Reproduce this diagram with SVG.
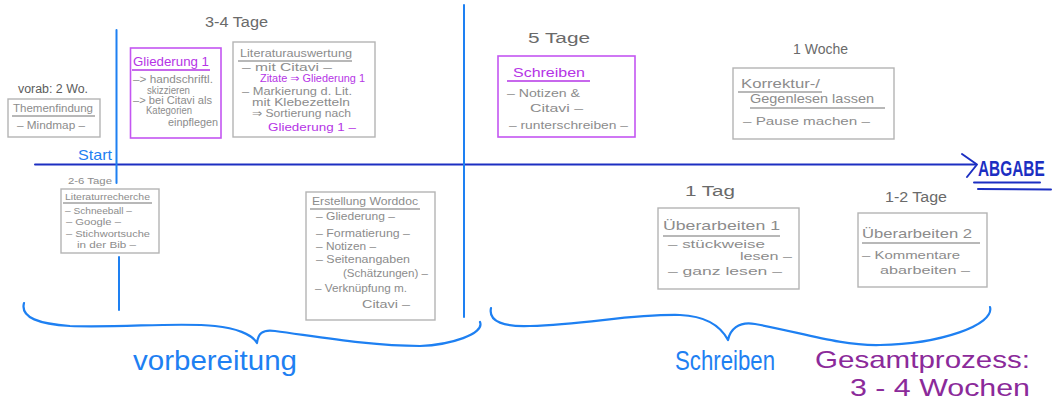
<svg xmlns="http://www.w3.org/2000/svg" width="1053" height="405" viewBox="0 0 1053 405">
  <style>
    text { font-family: "Liberation Sans", "DejaVu Sans", sans-serif; }
    .box { fill: #ffffff; stroke: #b4b4b4; stroke-width: 1.4; }
    .pbox { fill: #ffffff; stroke: #c456f2; stroke-width: 1.6; }
    .t { fill: #8c8c8c; font-size: 10.5px; }
    .ts { fill: #8c8c8c; font-size: 9.5px; }
    .tl { fill: #8c8c8c; font-size: 13px; }
    .p { fill: #b534e6; font-size: 10.5px; }
    .pl { fill: #b534e6; font-size: 13px; }
    .ul { stroke: #a0a0a0; stroke-width: 1.3; }
    .pul { stroke: #b534e6; stroke-width: 1.3; }
    .dur { fill: #6a6a6a; font-size: 14px; }
    .axis { stroke: #1c2fc2; stroke-width: 2; fill: none; stroke-linecap: round; stroke-linejoin: round; }
    .sep { stroke: #1e80f2; stroke-width: 2; fill: none; stroke-linecap: round; }
    .brace { stroke: #1e80f2; stroke-width: 2.2; fill: none; stroke-linecap: round; stroke-linejoin: round; }
    .phase { fill: #1e80f2; font-size: 28px; }
  </style>

  <!-- timeline, phase separators and braces -->
  <g id="connectors">
    <path class="axis" d="M35 164.5 L975 164.5"/>
    <path class="axis" d="M962 154 L977 164.5 L967 177"/>
    <path class="sep" d="M116.5 30 L116.5 183"/>
    <path class="sep" d="M119 257 L119 310"/>
    <path class="sep" d="M464 5 L464 317"/>
    <path class="brace" d="M24 303 C20 318 40 324 70 326 C120 328 180 322 215 326 C235 328 252 334 257 343 C258 334 262 329 275 331 C320 337 370 346 420 346 C450 345 485 334 480 322"/>
    <path class="brace" d="M491 308 C488 322 505 327 530 326 C590 324 630 314 680 315 C705 316 720 325 728 340 C730 330 738 321 755 324 C800 332 840 346 880 345 C940 344 995 325 990 307"/>
  </g>

  <g id="start">
    <text x="78" y="160" fill="#1e80f2" font-size="15" textLength="34" lengthAdjust="spacingAndGlyphs">Start</text>
  </g>

  <g id="abgabe">
    <!-- condensed horizontally so the word sits between arrow tip and right edge -->
    <text transform="translate(978 176) scale(0.7 1)" x="0" y="0" fill="#1c2fc2" font-size="22" font-weight="bold">ABGABE</text>
    <path class="axis" d="M974 182.5 L1040 182.5"/>
    <path class="axis" d="M978 189 L1051 189.5"/>
  </g>

  <!-- preparation phase -->
  <g id="themenfindung">
    <text x="18" y="93" fill="#5c5c5c" font-size="12" textLength="70" lengthAdjust="spacingAndGlyphs">vorab: 2 Wo.</text>
    <rect class="box" x="8" y="99" width="92" height="38"/>
    <text class="t" x="13" y="112" textLength="80" lengthAdjust="spacingAndGlyphs">Themenfindung</text>
    <line class="ul" x1="12" y1="116" x2="95" y2="116"/>
    <text class="t" x="17" y="129" textLength="68" lengthAdjust="spacingAndGlyphs">– Mindmap –</text>
  </g>

  <g id="gliederung">
    <rect class="pbox" x="130.5" y="48" width="90.5" height="90"/>
    <text class="pl" x="133" y="66" textLength="76" lengthAdjust="spacingAndGlyphs">Gliederung 1</text>
    <line class="pul" x1="132" y1="70" x2="210" y2="70"/>
    <text class="t" x="133" y="83" textLength="80" lengthAdjust="spacingAndGlyphs">–&gt; handschriftl.</text>
    <text class="t" x="147" y="94" textLength="43" lengthAdjust="spacingAndGlyphs">skizzieren</text>
    <text class="t" x="133" y="104" textLength="79" lengthAdjust="spacingAndGlyphs">–&gt; bei Citavi als</text>
    <text class="t" x="146" y="114" textLength="46" lengthAdjust="spacingAndGlyphs">Kategorien</text>
    <text class="t" x="168" y="126" textLength="50" lengthAdjust="spacingAndGlyphs">einpflegen</text>
  </g>

  <g id="duration-3-4">
    <text class="dur" x="205" y="27" textLength="63" lengthAdjust="spacingAndGlyphs">3-4 Tage</text>
  </g>

  <g id="literaturauswertung">
    <rect class="box" x="233" y="42" width="142" height="95"/>
    <text class="t" x="240" y="57" textLength="112" lengthAdjust="spacingAndGlyphs">Literaturauswertung</text>
    <line class="ul" x1="238" y1="61" x2="352" y2="61"/>
    <text class="t" x="242" y="71" textLength="90" lengthAdjust="spacingAndGlyphs">– mit Citavi –</text>
    <text class="p" x="260" y="82" textLength="105" lengthAdjust="spacingAndGlyphs">Zitate ⇒ Gliederung 1</text>
    <text class="t" x="242" y="95" textLength="110" lengthAdjust="spacingAndGlyphs">– Markierung d. Lit.</text>
    <text class="t" x="252" y="106" textLength="98" lengthAdjust="spacingAndGlyphs">mit Klebezetteln</text>
    <text class="t" x="252" y="117" textLength="99" lengthAdjust="spacingAndGlyphs">⇒ Sortierung nach</text>
    <text class="p" x="268" y="131" textLength="88" lengthAdjust="spacingAndGlyphs">Gliederung 1 –</text>
  </g>

  <g id="literaturrecherche">
    <text class="ts" x="68" y="184" textLength="44" lengthAdjust="spacingAndGlyphs">2-6 Tage</text>
    <rect class="box" x="61" y="189" width="98" height="64"/>
    <text class="ts" x="65" y="200" textLength="85" lengthAdjust="spacingAndGlyphs">Literaturrecherche</text>
    <line class="ul" x1="63" y1="203" x2="152" y2="203"/>
    <text class="ts" x="65" y="214" textLength="67" lengthAdjust="spacingAndGlyphs">– Schneeball –</text>
    <text class="ts" x="66" y="225" textLength="55" lengthAdjust="spacingAndGlyphs">– Google –</text>
    <text class="ts" x="66" y="237" textLength="84" lengthAdjust="spacingAndGlyphs">– Stichwortsuche</text>
    <text class="ts" x="77" y="248" textLength="59" lengthAdjust="spacingAndGlyphs">in der Bib –</text>
  </g>

  <g id="worddoc">
    <rect class="box" x="306" y="192" width="129" height="128"/>
    <text class="t" x="312" y="205" textLength="106" lengthAdjust="spacingAndGlyphs">Erstellung Worddoc</text>
    <line class="ul" x1="310" y1="209" x2="420" y2="209"/>
    <text class="t" x="316" y="220" textLength="79" lengthAdjust="spacingAndGlyphs">– Gliederung –</text>
    <text class="t" x="316" y="237" textLength="94" lengthAdjust="spacingAndGlyphs">– Formatierung –</text>
    <text class="t" x="316" y="250" textLength="60" lengthAdjust="spacingAndGlyphs">– Notizen –</text>
    <text class="t" x="316" y="263" textLength="94" lengthAdjust="spacingAndGlyphs">– Seitenangaben</text>
    <text class="t" x="343" y="277" textLength="85" lengthAdjust="spacingAndGlyphs">(Schätzungen) –</text>
    <text class="t" x="315" y="292" textLength="92" lengthAdjust="spacingAndGlyphs">– Verknüpfung m.</text>
    <text class="t" x="362" y="308" textLength="48" lengthAdjust="spacingAndGlyphs">Citavi –</text>
  </g>

  <!-- writing phase -->
  <g id="schreiben">
    <text class="dur" x="528" y="43" font-size="15" textLength="62" lengthAdjust="spacingAndGlyphs">5 Tage</text>
    <rect class="pbox" x="498" y="56" width="137" height="81"/>
    <text class="pl" x="513" y="77" font-size="15" textLength="72" lengthAdjust="spacingAndGlyphs">Schreiben</text>
    <line class="pul" x1="507" y1="81" x2="590" y2="81"/>
    <text class="t" x="507" y="97" font-size="11" textLength="73" lengthAdjust="spacingAndGlyphs">– Notizen &amp;</text>
    <text class="t" x="530" y="112" font-size="11" textLength="53" lengthAdjust="spacingAndGlyphs">Citavi –</text>
    <text class="t" x="509" y="129" font-size="11" textLength="119" lengthAdjust="spacingAndGlyphs">– runterschreiben –</text>
  </g>

  <g id="korrektur">
    <text class="dur" x="793" y="54" textLength="55" lengthAdjust="spacingAndGlyphs">1 Woche</text>
    <rect class="box" x="733" y="68" width="161" height="71"/>
    <text class="tl" x="741" y="88" textLength="79" lengthAdjust="spacingAndGlyphs">Korrektur-/</text>
    <line class="ul" x1="738" y1="92" x2="822" y2="92"/>
    <text class="tl" x="750" y="103" textLength="124" lengthAdjust="spacingAndGlyphs">Gegenlesen lassen</text>
    <line class="ul" x1="750" y1="108" x2="885" y2="108"/>
    <text class="t" x="743" y="125" font-size="11" textLength="127" lengthAdjust="spacingAndGlyphs">– Pause machen –</text>
  </g>

  <g id="ueberarbeiten1">
    <text class="dur" x="685" y="196" font-size="15" textLength="50" lengthAdjust="spacingAndGlyphs">1 Tag</text>
    <rect class="box" x="658" y="208" width="141" height="81"/>
    <text class="tl" x="663" y="230" font-size="14" textLength="117" lengthAdjust="spacingAndGlyphs">Überarbeiten 1</text>
    <line class="ul" x1="663" y1="236" x2="780" y2="236"/>
    <text class="t" x="668" y="248" font-size="12" textLength="97" lengthAdjust="spacingAndGlyphs">– stückweise</text>
    <text class="t" x="740" y="260" font-size="12" textLength="52" lengthAdjust="spacingAndGlyphs">lesen –</text>
    <text class="t" x="668" y="275" font-size="12" textLength="114" lengthAdjust="spacingAndGlyphs">– ganz lesen –</text>
  </g>

  <g id="ueberarbeiten2">
    <text class="dur" x="885" y="202" textLength="62" lengthAdjust="spacingAndGlyphs">1-2 Tage</text>
    <rect class="box" x="858" y="213" width="129" height="74"/>
    <text class="tl" x="862" y="238" font-size="14" textLength="110" lengthAdjust="spacingAndGlyphs">Überarbeiten 2</text>
    <line class="ul" x1="862" y1="243" x2="980" y2="243"/>
    <text class="t" x="862" y="259" font-size="12" textLength="98" lengthAdjust="spacingAndGlyphs">– Kommentare</text>
    <text class="t" x="880" y="274" font-size="12" textLength="90" lengthAdjust="spacingAndGlyphs">abarbeiten –</text>
  </g>

  <!-- phase labels -->
  <g id="label-vorbereitung">
    <text class="phase" x="133" y="370" textLength="164" lengthAdjust="spacingAndGlyphs">vorbereitung</text>
  </g>
  <g id="label-schreiben">
    <text class="phase" x="675" y="370" font-size="25" textLength="100" lengthAdjust="spacingAndGlyphs">Schreiben</text>
  </g>
  <g id="gesamtprozess">
    <text x="815" y="368" fill="#8b2a9a" font-size="24" textLength="215" lengthAdjust="spacingAndGlyphs">Gesamtprozess:</text>
    <text x="850" y="396" fill="#8b2a9a" font-size="24" textLength="180" lengthAdjust="spacingAndGlyphs">3 - 4 Wochen</text>
  </g>
</svg>
